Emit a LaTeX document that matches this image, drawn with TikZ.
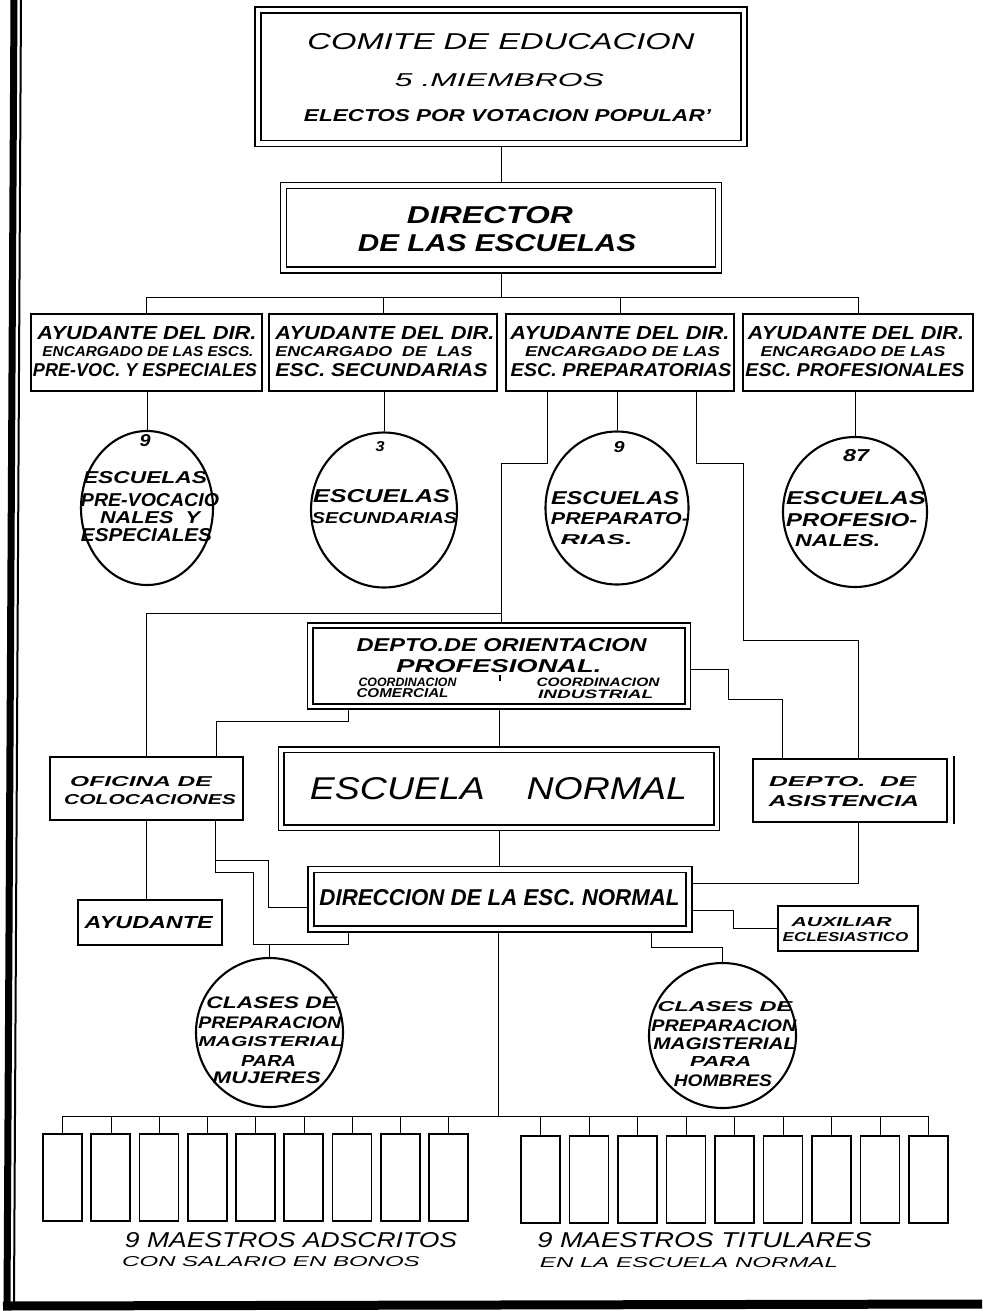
\documentclass[tikz,border=0pt]{standalone}
\usepackage{fontspec}
\setmainfont{Liberation Sans}
\usetikzlibrary{shapes.geometric,backgrounds}
\newcommand{\hb}[3]{\resizebox{#1pt}{#2pt}{\bfseries\itshape #3}}
\newcommand{\hm}[3]{\resizebox{#1pt}{#2pt}{\itshape #3}}
\begin{document}
\begin{tikzpicture}[x=1pt,y=-1pt,
  box/.style={draw, line width=1.9pt, inner sep=0pt, rectangle, fill=white},
  dbox/.style={draw, line width=1.6pt, double, double distance=#1, inner sep=0pt, rectangle, fill=white},
  oval/.style={draw, ellipse, line width=2.1pt, inner sep=0pt, fill=white},
  mbox/.style={draw, line width=1.9pt, inner sep=0pt, minimum width=39pt, minimum height=87pt},
  conn/.style={line width=2pt},
  txt/.style={inner sep=0pt, outer sep=0pt, anchor=center}]
\useasboundingbox (0,0) rectangle (982,1311);
% frame
\draw[line width=7pt] (14,0) -- (7,1306);
\draw[line width=2pt] (21,0) -- (14,1302);
\draw[line width=9pt] (3,1306) -- (982,1304);

% main boxes
\node[dbox=4.7pt, minimum width=486pt, minimum height=133.5pt] (com) at (501,76.75) {};
\node[dbox=4.4pt, minimum width=435pt, minimum height=84.5pt] (dir) at (501,227.75) {};
\node[box, minimum width=231pt, minimum height=77pt] (ay1) at (146.5,352.5) {};
\node[box, minimum width=228pt, minimum height=77pt] (ay2) at (383,352.5) {};
\node[box, minimum width=228pt, minimum height=77pt] (ay3) at (620,352.5) {};
\node[box, minimum width=230pt, minimum height=77pt] (ay4) at (858,352.5) {};
\node[oval, minimum width=132pt, minimum height=154pt] (e1) at (147,508) {};
\node[oval, minimum width=146pt, minimum height=155pt] (e2) at (384,510) {};
\node[oval, minimum width=143pt, minimum height=153pt] (e3) at (617,508) {};
\node[oval, minimum width=144pt, minimum height=150pt] (e4) at (855,512) {};
\node[dbox=3.8pt, minimum width=377.5pt, minimum height=81pt] (ori) at (499,666) {};
\node[box, minimum width=193pt, minimum height=63pt] (ofi) at (146.5,788.5) {};
\node[dbox=4pt, minimum width=435.5pt, minimum height=78pt] (nor) at (499,788.5) {};
\node[box, minimum width=194pt, minimum height=63pt] (asi) at (850,790.5) {};
\node[dbox=4.2pt, minimum width=378pt, minimum height=59.5pt] (dirn) at (500,899.25) {};
\node[box, minimum width=144pt, minimum height=45pt] (ayu) at (150,922.5) {};
\node[box, minimum width=140pt, minimum height=45pt] (aux) at (848,928.5) {};
\node[oval, minimum width=147pt, minimum height=149pt] (cm) at (269.5,1032.5) {};
\node[oval, minimum width=147pt, minimum height=145pt] (ch) at (722.5,1035.5) {};
\foreach \i in {1,...,9} {
  \node[mbox] (ma\i) at ({62.5+48.25*(\i-1)},1177.5) {};
  \node[mbox] (mt\i) at ({540.5+48.5*(\i-1)},1179.5) {};
}
\draw[line width=1.9pt] ([xshift=6pt,yshift=2pt]asi.north east) -- ([xshift=6pt,yshift=-1pt]asi.south east);

% connectors
\coordinate (bus1) at (501,297);
\coordinate (j1) at (501,463);
\coordinate (j2) at (501,613);
\coordinate (j3) at (743,463);
\coordinate (j4) at (858,640);
\coordinate (j5) at (728,699);
\coordinate (j7) at (216,721);
\coordinate (j8) at (733,928.5);
\coordinate (j9) at (700,947);
\coordinate (k1) at (215,860);
\coordinate (k2) at (268,907);
\coordinate (k3) at (215,872);
\coordinate (k4) at (253,944);
\coordinate (k5) at (348,944);
\coordinate (bus2) at (498,1116);
\begin{scope}[on background layer, conn]
\fill[white] (0,0) rectangle (982,1311);
\draw (com.south) -- (dir.north);
\draw (dir.south) -- (bus1);
\draw (ay1.north) -- (ay1.north |- bus1) -- (ay4.north |- bus1) -- (ay4.north);
\draw (ay2.north) -- (ay2.north |- bus1);
\draw (ay3.north) -- (ay3.north |- bus1);
\draw (e1.north |- ay1.south) -- (e1.north);
\draw (e2.north |- ay2.south) -- (e2.north);
\draw (e3.north |- ay3.south) -- (e3.north);
\draw (e4.north |- ay4.south) -- (e4.north);
\draw ([xshift=-73pt]ay3.south) |- (j1) -- (j1 |- ori.north);
\draw (j2) -| (ofi.north);
\draw ([xshift=76pt]ay3.south) |- (j3) |- (j4) -- (j4 |- asi.north);
\draw ([yshift=-3pt]ori.east) -| (j5) -| ([xshift=-68pt]asi.north);
\draw ([xshift=-151pt]ori.south) |- (j7) -- (j7 |- ofi.north);
\draw (ori.south) -- (nor.north);
\draw (nor.south) -- (nor.south |- dirn.north);
\draw ([xshift=8pt]asi.south) |- ([yshift=16.5pt]dirn.east);
\draw ([yshift=-10.5pt]dirn.east) -| (j8) -- (aux.west);
\draw (ofi.south) -- (ofi.south |- ayu.north);
\draw ([xshift=68.5pt]ofi.south) -- (k3) -| (k4) -- (k5) -- (k5 |- dirn.south);
\draw (k1) -| (k2) -- (k2 -| dirn.west);
\draw (cm.north |- k4) -- (cm.north);
\draw ([xshift=151pt]dirn.south) |- (j9) -| (ch.north);
\draw (bus2 |- dirn.south) -- (bus2);
\draw (ma1.north |- bus2) -- (mt9.north |- bus2);
\foreach \i in {1,...,9} {
  \draw (ma\i.north |- bus2) -- (ma\i.north);
  \draw (mt\i.north |- bus2) -- (mt\i.north);
}
\end{scope}
\draw[line width=1.6pt] (500,675) -- (500,681);

% texts
\node[txt] (t1) at (501,41.5) {\hm{387}{16}{COMITE DE EDUCACION}};
\node[txt] (t2) at (499.5,80.5) {\hm{209}{13}{5 .MIEMBROS}};
\node[txt] (t3) at (507.5,116) {\hb{407}{12}{ELECTOS POR VOTACION POPULAR'}};
\node[txt] (t4) at (490,215.5) {\hb{166}{17}{DIRECTOR}};
\node[txt] (t5) at (497,243.5) {\hb{278}{17}{DE LAS ESCUELAS}};

\node[txt] (a11) at (147,333.5) {\hb{219}{13}{AYUDANTE DEL DIR.}};
\node[txt] (a12) at (148,352) {\hb{211}{10}{ENCARGADO DE LAS ESCS.}};
\node[txt] (a13) at (145,370.5) {\hb{224}{13}{PRE-VOC. Y ESPECIALES}};
\node[txt] (a21) at (385,333.5) {\hb{219}{13}{AYUDANTE DEL DIR.}};
\node[txt] (a22) at (374,352) {\hb{197}{10}{ENCARGADO\ \ DE\ \ LAS}};
\node[txt] (a23) at (381.5,370.5) {\hb{212}{13}{ESC. SECUNDARIAS}};
\node[txt] (a31) at (620,333.5) {\hb{219}{13}{AYUDANTE DEL DIR.}};
\node[txt] (a32) at (622.5,352) {\hb{195}{10}{ENCARGADO DE LAS}};
\node[txt] (a33) at (621,370.5) {\hb{221}{13}{ESC. PREPARATORIAS}};
\node[txt] (a41) at (856,333.5) {\hb{216}{13}{AYUDANTE DEL DIR.}};
\node[txt] (a42) at (853,352) {\hb{185}{10}{ENCARGADO DE LAS}};
\node[txt] (a43) at (855,370.5) {\hb{219}{13}{ESC. PROFESIONALES}};

\node[txt] (c10) at (145,441) {\hb{11}{12}{9}};
\node[txt] (c11) at (145,478) {\hb{124}{12}{ESCUELAS}};
\node[txt] (c12) at (150,500) {\hb{138}{13}{PRE-VOCACIO}};
\node[txt] (c13) at (150,517.5) {\hb{100}{12}{NALES\ \ Y}};
\node[txt] (c14) at (146.5,535) {\hb{131}{13}{ESPECIALES}};
\node[txt] (c20) at (380,447) {\hb{9}{10}{3}};
\node[txt] (c21) at (381.5,496.5) {\hb{137}{13}{ESCUELAS}};
\node[txt] (c22) at (384.5,518) {\hb{145}{11}{SECUNDARIAS}};
\node[txt] (c30) at (619,447.5) {\hb{11}{11}{9}};
\node[txt] (c31) at (615,498.5) {\hb{128}{13}{ESCUELAS}};
\node[txt] (c32) at (620,519) {\hb{138}{12}{PREPARATO-}};
\node[txt] (c33) at (596.5,540) {\hb{72}{10}{RIAS.}};
\node[txt] (c40) at (856,456) {\hb{26}{12}{87}};
\node[txt] (c41) at (856,498.5) {\hb{140}{13}{ESCUELAS}};
\node[txt] (c42) at (851.7,520) {\hb{131}{13}{PROFESIO-}};
\node[txt] (c43) at (837.7,541) {\hb{85}{12}{NALES.}};

\node[txt] (o1) at (501.7,645) {\hb{290}{13}{DEPTO.DE ORIENTACION}};
\node[txt] (o2) at (499,666.5) {\hb{205}{13}{PROFESIONAL.}};
\node[txt] (o3) at (407.5,682.5) {\hb{98}{8.5}{COORDINACION}};
\node[txt] (o4) at (402.5,693) {\hb{92}{9}{COMERCIAL}};
\node[txt] (o5) at (598,682.5) {\hb{123}{8.5}{COORDINACION}};
\node[txt] (o6) at (595.7,694) {\hb{115}{8.5}{INDUSTRIAL}};

\node[txt] (f1) at (141,781.7) {\hb{141.5}{10}{OFICINA DE}};
\node[txt] (f2) at (150,800) {\hb{171.6}{10}{COLOCACIONES}};
\node[txt] (n1) at (498.5,788.5) {\hm{377}{22}{ESCUELA\ \ \ \ NORMAL}};
\node[txt] (s1) at (842.7,781.7) {\hb{147}{10}{DEPTO.\ \ DE}};
\node[txt] (s2) at (844,801) {\hb{150}{11}{ASISTENCIA}};
\node[txt] (d1) at (499.5,898) {\hb{360}{16}{DIRECCION DE LA ESC. NORMAL}};
\node[txt] (y1) at (148.7,922.5) {\hb{128}{12}{AYUDANTE}};
\node[txt] (x1) at (841.7,921.7) {\hb{100}{9}{AUXILIAR}};
\node[txt] (x2) at (845.5,937) {\hb{125.6}{9}{ECLESIASTICO}};

\node[txt] (m1) at (271.8,1002.5) {\hb{130.6}{11.7}{CLASES DE}};
\node[txt] (m2) at (269.8,1022.5) {\hb{142.9}{11.7}{PREPARACION}};
\node[txt] (m3) at (270.9,1041.7) {\hb{145}{10}{MAGISTERIAL}};
\node[txt] (m4) at (268.6,1060.5) {\hb{55}{11}{PARA}};
\node[txt] (m5) at (266.7,1077.5) {\hb{108}{11.7}{MUJERES}};
\node[txt] (h1) at (724.9,1006.7) {\hb{134.7}{10}{CLASES DE}};
\node[txt] (h2) at (723.9,1025.8) {\hb{144.9}{11.7}{PREPARACION}};
\node[txt] (h3) at (724.9,1044) {\hb{142.9}{11.7}{MAGISTERIAL}};
\node[txt] (h4) at (720.7,1061.7) {\hb{61.2}{10}{PARA}};
\node[txt] (h5) at (722.9,1080.8) {\hb{98}{11.7}{HOMBRES}};

\node[txt] (b1) at (291,1240.5) {\hm{332}{15}{9 MAESTROS ADSCRITOS}};
\node[txt] (b2) at (271,1261.7) {\hm{297.5}{10}{CON SALARIO EN BONOS}};
\node[txt] (b3) at (704.6,1240.5) {\hm{334.4}{15}{9 MAESTROS TITULARES}};
\node[txt] (b4) at (689,1263) {\hm{298}{10}{EN LA ESCUELA NORMAL}};
\end{tikzpicture}
\end{document}
